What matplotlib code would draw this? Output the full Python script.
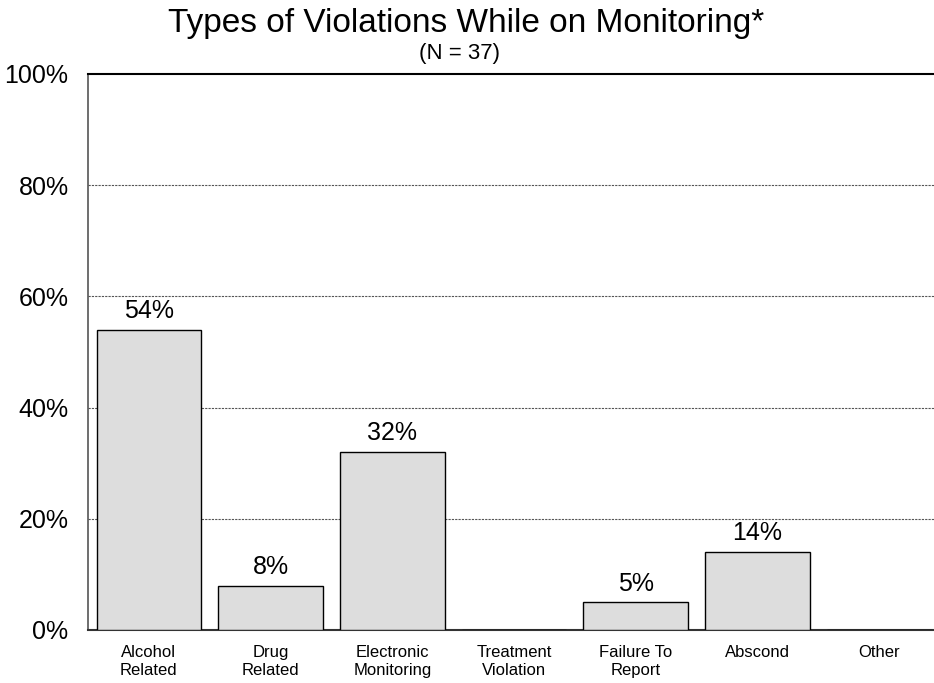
import matplotlib.pyplot as plt
import numpy as np

plt.rcParams['font.family'] = ['Liberation Sans', 'DejaVu Sans']

categories = ["Alcohol\nRelated", "Drug\nRelated", "Electronic\nMonitoring",
              "Treatment\nViolation", "Failure To\nReport", "Abscond", "Other"]
percents = [54, 8, 32, 0, 5, 14, 0]
yticks = [0, 20, 40, 60, 80, 100]

fig = plt.figure(figsize=(9.34, 6.83), dpi=100)
ax = fig.add_axes([0.0942, 0.0776, 0.9058, 0.8141])

x = np.arange(len(categories))
ax.bar(x, percents, width=0.86, color='#dddddd', edgecolor='black', linewidth=1, zorder=3)

# value labels above the bars
for xi, v in zip(x, percents):
    if v > 0:
        ax.text(xi, v + 1.2, f"{v}%", ha='center', va='bottom', fontsize=18)

ax.set_xlim(-0.5, 6.45)
ax.set_ylim(0, 100)
ax.set_yticks(yticks)
ax.set_yticklabels([f"{t}%" for t in yticks], fontsize=18)
ax.set_xticks(x)
ax.set_xticklabels(categories, fontsize=12)
ax.tick_params(axis='y', length=0, pad=14)
ax.tick_params(axis='x', length=0, pad=11)

for t in [20, 40, 60, 80]:
    ax.axhline(t, color='#555555', linestyle=(0, (2, 1)), linewidth=0.8, zorder=1)

ax.spines['right'].set_visible(False)
ax.spines['top'].set_color('black')
ax.spines['top'].set_linewidth(1.5)
ax.spines['left'].set_color('#555555')
ax.spines['left'].set_linewidth(1.2)
ax.spines['bottom'].set_color('#333333')
ax.spines['bottom'].set_linewidth(1.5)

fig.text(0.499, 0.953, "Types of Violations While on Monitoring*", ha='center', va='baseline', fontsize=24)
fig.text(0.492, 0.922, "(N = 37)", ha='center', va='center', fontsize=16)

fig.savefig("out.png", dpi=100)
